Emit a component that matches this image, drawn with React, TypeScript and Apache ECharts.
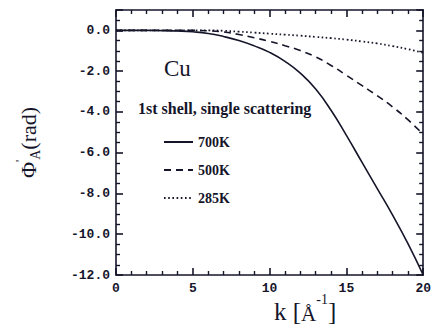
import React, { useEffect, useRef } from "react";
import * as echarts from "echarts";

const kValues = [0, 1, 2, 3, 4, 5, 6, 7, 8, 9, 10, 11, 12, 13, 14, 15, 16, 17, 18, 19, 20];
const phi700 = [0, 0, 0, -0.01, -0.03, -0.07, -0.15, -0.3, -0.5, -0.76, -1.08, -1.52, -2.1, -2.88, -3.92, -5.15, -6.45, -7.75, -9.05, -10.45, -12.0];
const phi500 = [0, 0, 0, 0, 0, 0, -0.02, -0.08, -0.2, -0.36, -0.54, -0.75, -0.99, -1.3, -1.72, -2.2, -2.7, -3.2, -3.75, -4.38, -5.1];
const phi285 = [0, 0, 0, 0, 0, 0, 0, -0.02, -0.06, -0.11, -0.16, -0.21, -0.26, -0.32, -0.38, -0.45, -0.54, -0.64, -0.77, -0.92, -1.1];
const seriesNames = ["700K", "500K", "285K"];
const xTicks = [0, 5, 10, 15, 20];
const yTicks = [0, -2, -4, -6, -8, -10, -12];

const X_MIN = 0;
const X_MAX = 20;
const Y_MIN = -12;
const Y_MAX = 1;

const INK = "#15152a";
const LABEL_FONT = "'Liberation Mono', 'DejaVu Sans Mono', monospace";
const SERIF = "'Liberation Serif', 'DejaVu Serif', serif";

export default function App() {
  const ref = useRef<HTMLDivElement>(null);
  useEffect(() => {
    if (!ref.current) return;
    const chart = echarts.init(ref.current, undefined, { renderer: "svg" });
    const pairs = (ys: number[]) => kValues.map((k, i) => [k, ys[i]]);
    const mkX = (pos: string, labels: boolean) => ({
      type: "value",
      position: pos,
      min: X_MIN,
      max: X_MAX,
      interval: 5,
      axisLine: { show: true, onZero: false, lineStyle: { color: INK, width: 1.6 } },
      axisTick: { show: true, inside: true, length: 7, lineStyle: { color: INK, width: 1.6 } },
      minorTick: { show: true, splitNumber: 5, length: 4, lineStyle: { color: INK, width: 1.4 } },
      splitLine: { show: false },
      axisLabel: labels
        ? {
            show: true,
            color: INK,
            fontFamily: LABEL_FONT,
            fontWeight: "bold",
            fontSize: 13,
            margin: 7,
            formatter: (v: number) => (xTicks.includes(v) ? String(v) : ""),
          }
        : { show: false },
    });
    const mkY = (pos: string, labels: boolean) => ({
      type: "value",
      position: pos,
      min: Y_MIN,
      max: Y_MAX,
      interval: 2,
      axisLine: { show: true, onZero: false, lineStyle: { color: INK, width: 1.6 } },
      axisTick: { show: true, inside: true, length: 7, lineStyle: { color: INK, width: 1.6 } },
      minorTick: { show: true, splitNumber: 4, length: 4, lineStyle: { color: INK, width: 1.4 } },
      splitLine: { show: false },
      axisLabel: labels
        ? {
            show: true,
            color: INK,
            fontFamily: LABEL_FONT,
            fontWeight: "bold",
            fontSize: 13,
            margin: 6,
            formatter: (v: number) => (yTicks.includes(v) ? v.toFixed(1) : ""),
          }
        : { show: false },
    });
    const yLeft: any = mkY("left", true);
    yLeft.name = "{a|Φ}{p|'}{b|A}{a|(rad)}";
    yLeft.nameLocation = "middle";
    yLeft.nameRotate = 90;
    yLeft.nameGap = 74;
    yLeft.nameTextStyle = {
      rich: {
        a: { fontFamily: SERIF, fontSize: 22, color: INK, lineHeight: 28, verticalAlign: "middle" },
        p: { fontFamily: SERIF, fontSize: 12, color: INK, lineHeight: 28, verticalAlign: "top" },
        b: { fontFamily: SERIF, fontSize: 14, color: INK, lineHeight: 28, verticalAlign: "bottom" },
      },
    };

    chart.setOption({
      animation: false,
      backgroundColor: "#ffffff",
      grid: { left: 116, right: 6, top: 10, bottom: 57 },
      xAxis: [mkX("bottom", true), mkX("top", false)],
      yAxis: [yLeft, mkY("right", false)],
      legend: {
        show: true,
        orient: "vertical",
        left: 158,
        top: 130,
        itemWidth: 29,
        itemHeight: 14,
        itemGap: 14,
        data: seriesNames,
        itemStyle: { color: "rgba(0,0,0,0)", borderColor: "rgba(0,0,0,0)", borderWidth: 0 },
        textStyle: { color: INK, fontFamily: SERIF, fontWeight: "bold", fontSize: 14 },
      },
      graphic: [
        { type: "text", left: 164, top: 57, style: { text: "Cu", fill: INK, font: `23px ${SERIF}` } },
        {
          type: "text",
          left: 138,
          top: 100,
          style: { text: "1st shell, single scattering", fill: INK, font: `bold 16px ${SERIF}` },
        },
        {
          type: "text",
          left: 274,
          top: 292,
          style: {
            text: "{a|k [}{b|Å}{s|-1}{a|]}",
            rich: {
              a: { fontFamily: SERIF, fontSize: 25, fill: INK, lineHeight: 32, verticalAlign: "bottom" },
              b: { fontFamily: SERIF, fontSize: 21, fill: INK, lineHeight: 32, verticalAlign: "bottom" },
              s: { fontFamily: SERIF, fontSize: 14, fill: INK, lineHeight: 32, verticalAlign: "top" },
            },
          },
        },
      ],
      series: [phi700, phi500, phi285].map((ys, i) => ({
        name: seriesNames[i],
        type: "line",
        xAxisIndex: 0,
        yAxisIndex: 0,
        data: pairs(ys),
        smooth: true,
        showSymbol: false,
        symbol: "none",
        lineStyle: {
          color: INK,
          width: i === 2 ? 1.8 : 1.6,
          type: i === 0 ? "solid" : i === 1 ? [7, 5] : [1.6, 2.6],
        },
        itemStyle: { color: INK },
      })),
    });
    return () => chart.dispose();
  }, []);
  return <div ref={ref} style={{ position: "fixed", left: 0, top: 0, width: 434, height: 332 }} />;
}
